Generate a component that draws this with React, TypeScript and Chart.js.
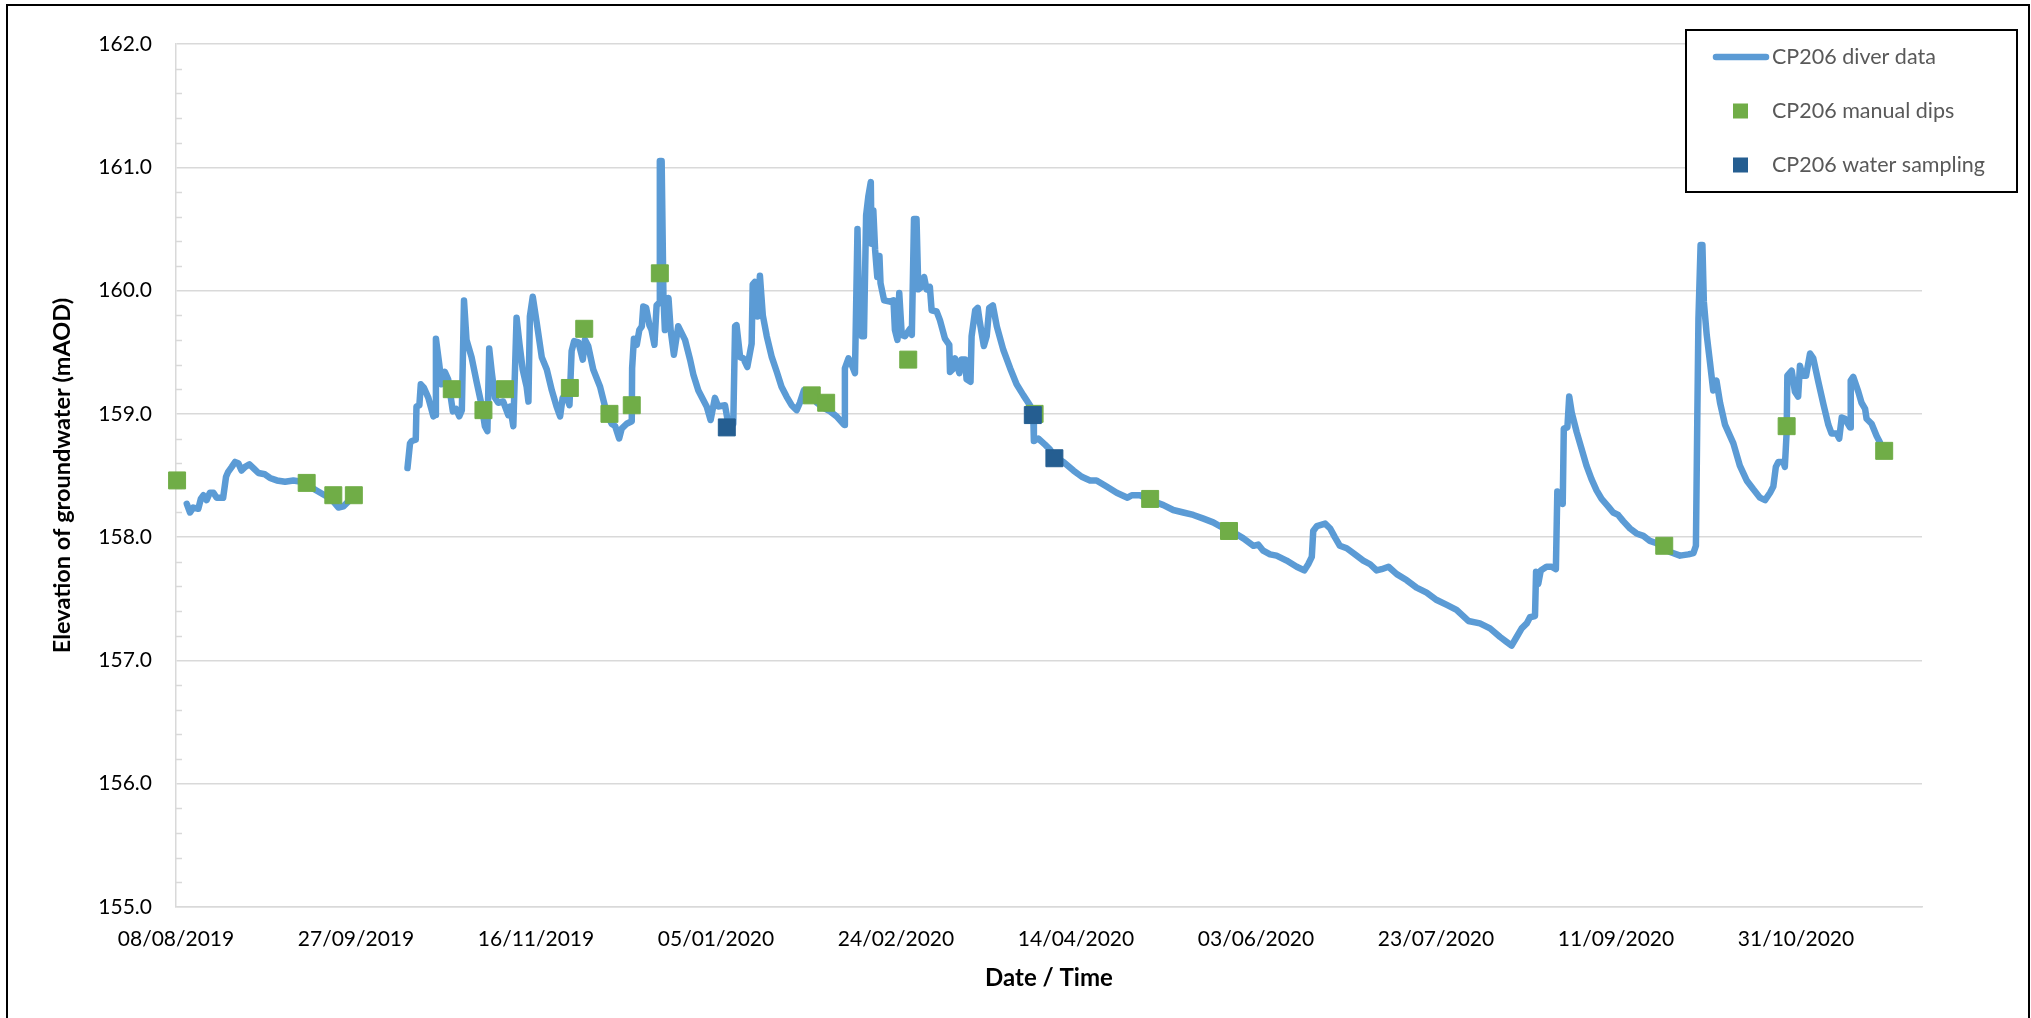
import { useEffect, useRef } from 'react';
import { Chart, registerables } from 'chart.js';

Chart.register(...registerables);

// x values are days after 08/08/2019
const startDateUTC = Date.UTC(2019, 7, 8);
const xMinDay = 0;
const xMaxDay = 485;
const xStepDays = 50;
const yMinLevel = 155;
const yMaxLevel = 162;
const yStep = 0.2;

const seriesLabels = ['CP206 diver data', 'CP206 manual dips', 'CP206 water sampling'];

const diverDay = [
  3.0, 3.9, 4.8, 6.2, 6.9, 7.6, 8.5, 9.4, 10.4, 11.3, 13.1, 13.9, 14.5, 15.5, 16.4, 17.3, 18.2, 19.2, 20.4, 21.5,
  22.9, 24.7, 26.1, 28.0, 30.3, 32.6, 34.9, 37.2, 39.5, 41.9, 43.7, 45.1, 46.5, 47.9, 48.3,
  56,
  64.3, 65.0, 65.5, 66.6, 66.8, 67.6, 68.0, 68.9, 70.1, 71.5, 72.0, 72.2, 73.1, 73.8, 74.7, 75.6, 76.9, 77.8, 78.7, 79.4,
  80.0, 80.7, 82.1, 83.5, 84.9, 85.8, 86.5, 87.0, 87.7, 88.6, 89.5, 90.9, 92.3, 92.8, 93.7, 94.6, 95.4, 96.3, 97.4, 97.9,
  98.3, 99.1, 100.2, 101.6, 103.0, 104.4, 105.7, 106.7, 107.4, 108.5, 109.3, 109.9, 110.6, 111.8, 113.0, 113.6, 114.5, 115.9, 117.8, 119.6,
  121.0, 122.0, 123.1, 123.8, 125.2, 126.6, 126.7, 127.2, 128.0, 128.7, 129.4, 129.8, 130.6, 131.5, 132.1, 132.9, 133.5, 134.2, 134.4, 134.9,
  135.4, 135.8, 136.8, 137.4, 138.3, 139.5, 141.4, 142.8, 143.7, 145.1, 146.5, 147.4, 148.5, 149.7, 150.6, 152.5, 153.4, 154.8, 155.3, 155.7,
  156.7, 157.6, 158.7, 159.9, 160.2, 160.8, 161.5, 162.2, 163.0, 164.1, 165.5, 166.9, 168.2, 169.6, 171.0, 172.4, 173.3, 174.4, 176.1, 178.0,
  179.8, 181.7, 183.5, 185.6, 185.8, 186.8, 187.4, 188.6, 189.3, 189.8, 190.5, 191.1, 191.7, 192.3, 193.0, 193.2, 193.7, 194.2, 194.8, 195.4,
  195.7, 196.7, 198.3, 199.3, 199.7, 200.4, 200.9, 201.6, 202.5, 203.9, 204.4, 205.0, 205.7, 206.2, 207.1, 207.8, 208.5, 209.4, 209.9, 211.3,
  212.2, 213.6, 214.8, 215.0, 215.7, 216.4, 217.6, 218.2, 219.2, 219.6, 220.7, 221.0, 222.0, 222.7, 223.3, 224.4, 225.2, 225.9, 226.9, 228.0,
  229.8, 231.7, 233.5, 235.4, 237.2, 238.1, 238.3, 239.5, 241.4, 242.8, 243.7, 246.5, 249.3, 251.6, 253.9, 255.7, 258.5, 261.3, 264.3, 265.5,
  267.8, 270.6, 274.3, 277.0, 279.8, 282.6, 285.4, 288.1, 290.5, 293.7, 296.5, 299.3, 300.6, 302.0, 303.9, 305.7, 308.5, 311.3, 313.4, 314.5,
  315.5, 315.9, 316.9, 319.2, 320.6, 321.9, 323.3, 325.2, 327.5, 329.8, 331.7, 333.5, 334.9, 336.8, 339.1, 341.9, 344.6, 347.4, 350.2, 353.0,
  355.7, 359.0, 362.2, 365.0, 367.8, 369.6, 371.0, 372.4, 373.8, 375.2, 376.1, 377.5, 377.8, 378.4, 379.1, 380.7, 382.1, 383.3, 383.7, 384.4,
  385.2, 385.5, 386.5, 387.0, 387.7, 389.1, 390.4, 391.8, 393.2, 394.6, 396.0, 397.8, 399.2, 400.6, 402.0, 403.9, 405.7, 407.6, 409.4, 411.3,
  413.2, 415.0, 417.8, 420.1, 421.5, 422.2, 422.6, 422.9, 423.5, 424.0, 424.4, 425.2, 426.1, 427.0, 427.9, 428.9, 430.3, 432.6, 434.4, 436.3,
  438.1, 440.0, 441.4, 442.8, 443.7, 444.4, 445.1, 446.5, 446.9, 447.4, 447.6, 448.8, 449.7, 450.6, 451.1, 451.8, 452.8, 453.9, 454.8, 456.2,
  457.6, 459.0, 459.9, 461.3, 462.0, 462.7, 463.6, 465.0, 465.2, 465.9, 467.3, 468.2, 469.2, 469.6, 471.0, 472.4, 473.3,
];

const diverLevel = [
  158.27, 158.20, 158.24, 158.23, 158.31, 158.34, 158.30, 158.36, 158.36, 158.32, 158.32, 158.49, 158.53, 158.57, 158.61, 158.60, 158.54, 158.57, 158.59, 158.56,
  158.52, 158.51, 158.48, 158.46, 158.45, 158.46, 158.45, 158.41, 158.37, 158.33, 158.29, 158.24, 158.25, 158.29, 158.30,
  null,
  158.56, 158.76, 158.78, 158.79, 159.06, 159.07, 159.24, 159.21, 159.13, 158.98, 158.99, 159.61, 159.41, 159.24, 159.34, 159.28, 159.02, 159.04, 158.98, 159.03,
  159.92, 159.60, 159.46, 159.26, 159.07, 158.90, 158.86, 159.53, 159.34, 159.13, 159.09, 159.10, 158.99, 159.06, 158.90, 159.78, 159.57, 159.36, 159.22, 159.10,
  159.79, 159.95, 159.74, 159.46, 159.36, 159.19, 159.06, 158.98, 159.13, 159.14, 159.07, 159.51, 159.59, 159.58, 159.44, 159.60, 159.55, 159.36, 159.22, 159.01,
  158.92, 158.90, 158.80, 158.88, 158.92, 158.94, 159.37, 159.61, 159.56, 159.68, 159.71, 159.87, 159.86, 159.72, 159.68, 159.56, 159.88, 159.90, 161.05, 161.05,
  159.95, 159.68, 159.94, 159.68, 159.48, 159.71, 159.60, 159.44, 159.32, 159.19, 159.11, 159.06, 158.95, 159.13, 159.06, 159.07, 158.92, 158.92, 159.71, 159.72,
  159.46, 159.45, 159.38, 159.57, 160.05, 160.07, 159.79, 160.12, 159.80, 159.63, 159.46, 159.34, 159.22, 159.14, 159.07, 159.03, 159.09, 159.19, 159.17, 159.09,
  159.05, 159.02, 158.98, 158.91, 159.37, 159.45, 159.42, 159.33, 160.50, 159.79, 159.63, 159.63, 160.61, 160.76, 160.88, 160.38, 160.65, 160.33, 160.11, 160.28,
  160.06, 159.92, 159.91, 159.92, 159.68, 159.60, 159.98, 159.64, 159.63, 159.69, 159.64, 160.58, 160.58, 160.01, 160.03, 160.11, 160.01, 160.03, 159.84, 159.83,
  159.76, 159.61, 159.56, 159.34, 159.36, 159.45, 159.33, 159.44, 159.44, 159.28, 159.26, 159.63, 159.84, 159.86, 159.74, 159.55, 159.63, 159.86, 159.88, 159.71,
  159.52, 159.37, 159.24, 159.15, 159.07, 159.02, 158.78, 158.80, 158.75, 158.71, 158.66, 158.61, 158.54, 158.49, 158.46, 158.46, 158.41, 158.36, 158.32, 158.34,
  158.34, 158.30, 158.26, 158.22, 158.20, 158.18, 158.15, 158.12, 158.08, 158.04, 157.99, 157.93, 157.94, 157.89, 157.86, 157.85, 157.81, 157.76, 157.73, 157.78,
  157.84, 158.05, 158.09, 158.11, 158.07, 158.00, 157.93, 157.91, 157.86, 157.81, 157.78, 157.73, 157.74, 157.76, 157.70, 157.65, 157.59, 157.55, 157.49, 157.45,
  157.41, 157.32, 157.30, 157.26, 157.19, 157.15, 157.12, 157.19, 157.26, 157.30, 157.35, 157.36, 157.72, 157.62, 157.73, 157.76, 157.76, 157.74, 158.37, 158.34,
  158.27, 158.88, 158.89, 159.14, 159.01, 158.85, 158.72, 158.58, 158.47, 158.38, 158.31, 158.25, 158.20, 158.18, 158.13, 158.07, 158.03, 158.01, 157.97, 157.95,
  157.92, 157.88, 157.85, 157.86, 157.87, 157.93, 159.01, 159.77, 160.37, 160.37, 159.91, 159.64, 159.42, 159.19, 159.27, 159.09, 158.91, 158.76, 158.58, 158.46,
  158.39, 158.32, 158.30, 158.36, 158.41, 158.57, 158.61, 158.61, 158.57, 158.85, 159.31, 159.35, 159.18, 159.14, 159.39, 159.31, 159.31, 159.49, 159.45, 159.26,
  159.08, 158.91, 158.84, 158.84, 158.80, 158.97, 158.96, 158.89, 159.27, 159.30, 159.18, 159.09, 159.04, 158.96, 158.92, 158.82, 158.77,
];

const dipDay = [0.3, 36.3, 43.7, 49.4, 76.6, 85.4, 91.4, 109.4, 113.4, 120.4, 126.6, 134.4, 176.6, 180.6, 203.4, 238.5, 270.6, 292.5, 413.4, 447.4, 474.5];
const dipLevel = [158.46, 158.44, 158.34, 158.34, 159.20, 159.03, 159.20, 159.21, 159.69, 159.00, 159.07, 160.14, 159.15, 159.09, 159.44, 159.00, 158.31, 158.05, 157.93, 158.90, 158.70];

const sampleDay = [153.0, 238.0, 244.0];
const sampleLevel = [158.89, 158.99, 158.64];

const lineColor = '#5B9BD5';
const dipColor = '#70AD47';
const sampleColor = '#255E91';
const gridColor = '#D9D9D9';
const fontFamily = 'Lato, "Open Sans", sans-serif';

const toPoints = (xs: number[], ys: (number | null)[]) => xs.map((x, i) => ({ x, y: ys[i] }));

const formatDay = (day: number) => {
  const d = new Date(startDateUTC + Math.round(day) * 86400000);
  const dd = String(d.getUTCDate()).padStart(2, '0');
  const mm = String(d.getUTCMonth() + 1).padStart(2, '0');
  return `${dd}/${mm}/${d.getUTCFullYear()}`;
};

const isMajor = (v: number) => Math.abs(v - Math.round(v)) < 1e-6;

const framePlugin = {
  id: 'frame',
  beforeDraw(chart: any) {
    const { ctx, width, height } = chart;
    ctx.save();
    ctx.fillStyle = '#ffffff';
    ctx.fillRect(0, 0, width, height);
    ctx.restore();
  },
  afterDraw(chart: any) {
    const { ctx } = chart;
    ctx.save();
    ctx.strokeStyle = '#000000';
    ctx.lineWidth = 2;
    ctx.strokeRect(7, 5, 2022, 1100);
    ctx.restore();
  },
};

const minorTickPlugin = {
  id: 'minorTicks',
  beforeDatasetsDraw(chart: any) {
    const y = chart.scales.y;
    const left = chart.chartArea.left;
    const { ctx } = chart;
    ctx.save();
    ctx.strokeStyle = gridColor;
    ctx.lineWidth = 1.5;
    y.ticks.forEach((t: any) => {
      if (isMajor(t.value)) return;
      const py = Math.round(y.getPixelForValue(t.value)) + 0.5;
      ctx.beginPath();
      ctx.moveTo(left, py);
      ctx.lineTo(left + 6, py);
      ctx.stroke();
    });
    ctx.restore();
  },
};

const boxLegendPlugin = {
  id: 'boxLegend',
  afterDraw(chart: any) {
    const { ctx } = chart;
    const bx = 1686, by = 30, bw = 331, bh = 162;
    ctx.save();
    ctx.fillStyle = '#ffffff';
    ctx.fillRect(bx, by, bw, bh);
    ctx.strokeStyle = '#000000';
    ctx.lineWidth = 2;
    ctx.strokeRect(bx, by, bw, bh);
    chart.data.datasets.forEach((ds: any, i: number) => {
      const cy = 57 + i * 54;
      if (i === 0) {
        ctx.strokeStyle = ds.borderColor;
        ctx.lineWidth = ds.borderWidth;
        ctx.lineCap = 'round';
        ctx.beginPath();
        ctx.moveTo(1716, cy);
        ctx.lineTo(1766, cy);
        ctx.stroke();
      } else {
        ctx.fillStyle = ds.backgroundColor;
        ctx.fillRect(1733, cy - 7.5, 15, 15);
      }
      ctx.fillStyle = '#595959';
      ctx.font = `21.5px ${fontFamily}`;
      ctx.textBaseline = 'middle';
      ctx.textAlign = 'left';
      ctx.fillText(ds.label, 1772, cy);
    });
    ctx.restore();
  },
};

export default function App() {
  const canvasRef = useRef<HTMLCanvasElement | null>(null);

  useEffect(() => {
    if (!canvasRef.current) return;
    Chart.defaults.font.family = fontFamily;
    const chart = new Chart(canvasRef.current, {
      type: 'scatter',
      data: {
        datasets: [
          {
            label: seriesLabels[0],
            data: toPoints(diverDay, diverLevel),
            showLine: true,
            borderColor: lineColor,
            backgroundColor: lineColor,
            borderWidth: 6.5,
            borderCapStyle: 'round',
            borderJoinStyle: 'round',
            pointRadius: 0,
            tension: 0,
            spanGaps: false,
            order: 3,
          },
          {
            label: seriesLabels[1],
            data: toPoints(dipDay, dipLevel),
            pointStyle: 'rect',
            pointRadius: 12,
            backgroundColor: dipColor,
            borderColor: dipColor,
            borderWidth: 1,
            clip: false,
            order: 2,
          },
          {
            label: seriesLabels[2],
            data: toPoints(sampleDay, sampleLevel),
            pointStyle: 'rect',
            pointRadius: 12,
            backgroundColor: sampleColor,
            borderColor: sampleColor,
            borderWidth: 1,
            clip: false,
            order: 1,
          },
        ],
      } as any,
      options: {
        animation: false,
        responsive: false,
        events: [],
        layout: { padding: { top: 44, right: 109, left: 0, bottom: 0 } },
        plugins: {
          legend: { display: false },
          tooltip: { enabled: false },
        },
        scales: {
          x: {
            type: 'linear',
            min: xMinDay,
            max: xMaxDay,
            afterFit: (s: any) => { s.height = 111; },
            afterBuildTicks: (s: any) => { s.ticks = s.ticks.filter((t: any) => Math.abs(t.value % xStepDays) < 1e-6); },
            ticks: {
              stepSize: xStepDays,
              autoSkip: false,
              maxRotation: 0,
              minRotation: 0,
              padding: 20,
              color: '#000000',
              font: { size: 21 },
              callback: (v: any) => formatDay(Number(v)),
            },
            grid: { display: false, drawTicks: false },
            border: { display: true, color: gridColor, width: 1.5 },
            title: {
              display: true,
              text: 'Date / Time',
              color: '#000000',
              font: { size: 24, weight: 'bold' },
              padding: { top: 0, bottom: 25 },
            },
          },
          y: {
            type: 'linear',
            min: yMinLevel,
            max: yMaxLevel,
            afterFit: (s: any) => { s.width = 176; },
            ticks: {
              stepSize: yStep,
              autoSkip: false,
              padding: 24,
              color: '#000000',
              font: { size: 21 },
              callback: (v: any) => (isMajor(Number(v)) ? Number(v).toFixed(1) : ''),
            },
            grid: {
              color: (c: any) => (c.tick && isMajor(c.tick.value) ? gridColor : 'rgba(0,0,0,0)'),
              lineWidth: 1.5,
              drawTicks: false,
            },
            border: { display: true, color: gridColor, width: 1.5 },
            title: {
              display: true,
              text: 'Elevation of groundwater (mAOD)',
              color: '#000000',
              font: { size: 23.5, weight: 'bold' },
              padding: { top: 48, bottom: 0 },
            },
          },
        },
      } as any,
      plugins: [framePlugin, minorTickPlugin, boxLegendPlugin],
    });
    return () => chart.destroy();
  }, []);

  return (
    <div style={{ position: 'fixed', left: 0, top: 0, width: 2031, height: 1018, background: '#fff' }}>
      <canvas ref={canvasRef} width={2031} height={1018} style={{ display: 'block' }} />
    </div>
  );
}
